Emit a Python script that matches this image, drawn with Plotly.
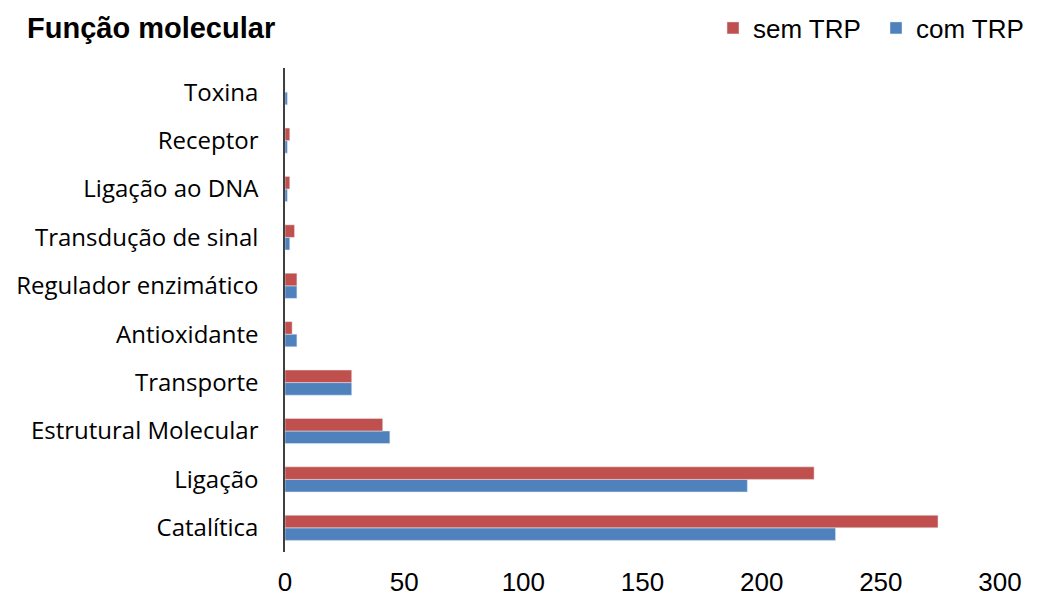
import plotly.graph_objects as go

categories = ["Catalítica", "Ligação", "Estrutural Molecular", "Transporte", "Antioxidante",
              "Regulador enzimático", "Transdução de sinal", "Ligação ao DNA", "Receptor", "Toxina"]
sem_trp = [274, 222, 41, 28, 3, 5, 4, 2, 2, 0]
com_trp = [231, 194, 44, 28, 5, 5, 2, 1, 1, 1]
x_ticks = [0, 50, 100, 150, 200, 250, 300]

W, H = 1044, 599
L, R, T, B = 285, 44, 68, 47

fig = go.Figure()
fig.add_trace(go.Bar(y=categories, x=com_trp, orientation="h", name="com TRP",
                     marker=dict(color="#4F81BD"), legendrank=2))
fig.add_trace(go.Bar(y=categories, x=sem_trp, orientation="h", name="sem TRP",
                     marker=dict(color="#C0504D"), legendrank=1))

fig.update_layout(
    width=W, height=H,
    margin=dict(l=L, r=R, t=T, b=B, autoexpand=False),
    paper_bgcolor="white", plot_bgcolor="white",
    barmode="group", bargap=0.48, bargroupgap=0,
    showlegend=True,
    legend=dict(orientation="h", xref="container", x=1 - 5 / W, xanchor="right",
                yref="container", y=1 - 28 / H, yanchor="middle",
                font=dict(family="Liberation Sans, Arial", size=26, color="black"),
                itemwidth=30, tracegroupgap=0, entrywidth=118, entrywidthmode="pixels",
                bgcolor="rgba(0,0,0,0)"),
    font=dict(family="Liberation Sans, Arial", color="black"),
)
fig.add_annotation(text="<b>Função molecular</b>", xref="paper", yref="paper",
                   x=(25 - L) / (W - L - R), y=1 + (T - 28) / (H - T - B),
                   xanchor="left", yanchor="middle", showarrow=False,
                   font=dict(family="Liberation Sans, Arial", size=29, color="black"))

fig.update_xaxes(range=[0, 300], tickvals=x_ticks, showgrid=False, zeroline=False,
                 showline=False, ticks="", ticklabelstandoff=12,
                 tickfont=dict(family="Liberation Sans, Arial", size=26, color="black"))
fig.update_yaxes(categoryorder="array", categoryarray=categories, range=[-0.5, 9.5],
                 showgrid=False, zeroline=False, showline=True, linecolor="#404040",
                 linewidth=1.5, ticks="", ticklabelstandoff=20,
                 tickfont=dict(family="Open Sans, Noto Sans", size=24, color="black"))

fig.write_html("out.html")
